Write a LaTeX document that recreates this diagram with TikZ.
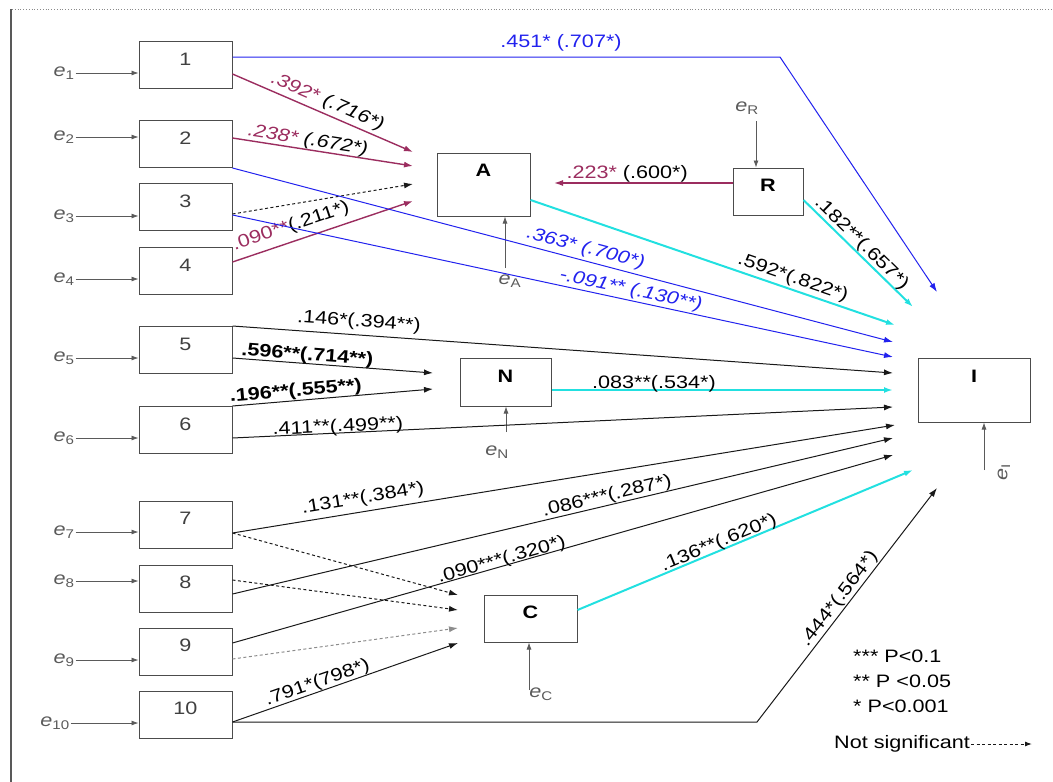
\documentclass[tikz,border=0pt]{standalone}
\usepackage{fontspec}
\setmainfont{Liberation Sans}[FakeStretch=1.2]
\usepackage{tikz}
\usetikzlibrary{arrows.meta,calc}
\definecolor{mauve}{HTML}{9B2D5F}
\definecolor{pathblue}{HTML}{2222EE}
\definecolor{pathcyan}{HTML}{22E0E0}
\definecolor{framegray}{HTML}{8A8A8A}
\definecolor{errgray}{HTML}{5A5A5A}
\newcommand{\coef}{\fontsize{18}{20}\selectfont}

\begin{document}
\begin{tikzpicture}[x=1pt, y=-1pt,
  box/.style={draw=black!70, fill=white, line width=1pt, minimum width=93pt,
              minimum height=47pt, inner sep=0pt, text height=8pt, text depth=8pt,
              font=\coef, text=black!75},
  lat/.style={box, font=\coef\bfseries, text=black},
  err/.style={font=\coef, text=errgray, inner sep=1pt},
  errarr/.style={-{Latex[length=7pt,width=5pt]}, draw=errgray, line width=0.8pt},
  arr/.style={-{Latex[length=9pt,width=6pt]}, draw=black!90, line width=1pt},
  ns/.style={arr, dash pattern=on 3pt off 2.5pt},
  mv/.style={arr, draw=mauve, line width=1.4pt},
  bl/.style={arr, draw=pathblue, line width=1pt},
  cy/.style={arr, draw=pathcyan, line width=2pt},
  coefl/.style={font=\coef, inner sep=0pt, sloped}]

\useasboundingbox (0,0) rectangle (1053,782);
\draw[framegray, dotted, line width=0.8pt] (12,9) -- (1053,9);
\draw[black!65, line width=2pt] (11,9) -- (11,782);

\node[box] (b1) at (185.5,65) {1};
\node[box] (b2) at (185.5,144) {2};
\node[box] (b3) at (185.5,207) {3};
\node[box] (b4) at (185.5,271) {4};
\node[box] (b5) at (185.5,350) {5};
\node[box] (b6) at (185.5,430) {6};
\node[box] (b7) at (185.5,524.5) {7};
\node[box] (b8) at (185.5,588.5) {8};
\node[box] (b9) at (185.5,651.5) {9};
\node[box] (b10) at (185.5,714.5) {10};

\node[lat, minimum height=63pt, text height=0pt, text depth=16pt] (A) at (483.5,184.5) {A};
\node[lat, minimum width=70pt] (R) at (768,191.5) {R};
\node[lat, minimum width=91pt, minimum height=48pt] (N) at (505.5,382) {N};
\node[lat] (C) at (530.5,618.5) {C};
\node[lat, minimum width=112pt, minimum height=64pt, text height=0pt, text depth=16pt] (I) at (974,390) {I};

\node[err] (e1) at (64,73) {\textit{e}\textsubscript{1}};
\node[err] (e2) at (64,137) {\textit{e}\textsubscript{2}};
\node[err] (e3) at (64,216) {\textit{e}\textsubscript{3}};
\node[err] (e4) at (64,279) {\textit{e}\textsubscript{4}};
\node[err] (e5) at (64,358) {\textit{e}\textsubscript{5}};
\node[err] (e6) at (64,438) {\textit{e}\textsubscript{6}};
\node[err] (e7) at (64,532) {\textit{e}\textsubscript{7}};
\node[err] (e8) at (64,581) {\textit{e}\textsubscript{8}};
\node[err] (e9) at (64,660) {\textit{e}\textsubscript{9}};
\node[err] (e10) at (55,723) {\textit{e}\textsubscript{10}};
\draw[errarr] (e1.east) -- (e1.east -| b1.west);
\draw[errarr] (e2.east) -- (e2.east -| b2.west);
\draw[errarr] (e3.east) -- (e3.east -| b3.west);
\draw[errarr] (e4.east) -- (e4.east -| b4.west);
\draw[errarr] (e5.east) -- (e5.east -| b5.west);
\draw[errarr] (e6.east) -- (e6.east -| b6.west);
\draw[errarr] (e7.east) -- (e7.east -| b7.west);
\draw[errarr] (e8.east) -- (e8.east -| b8.west);
\draw[errarr] (e9.east) -- (e9.east -| b9.west);
\draw[errarr] (e10.east) -- (e10.east -| b10.west);

\coordinate (eRf) at (756,121);
\coordinate (eAf) at (505,268);
\coordinate (eNf) at (506,432);
\coordinate (eCf) at (529,690);
\coordinate (eIf) at (984,470);
\node[err] (eR) at (747,108) {\textit{e}\textsubscript{R}};
\node[err] (eA) at (510,281) {\textit{e}\textsubscript{A}};
\node[err] (eN) at (497,452) {\textit{e}\textsubscript{N}};
\node[err] (eC) at (541,694) {\textit{e}\textsubscript{C}};
\node[err, rotate=90] (eI) at (1004,472) {\textit{e}\textsubscript{I}};
\draw[errarr] (eRf) -- (eRf |- R.north);
\draw[errarr] (eAf) -- (eAf |- A.south);
\draw[errarr] (eNf) -- (eNf |- N.south);
\draw[errarr] (eCf) -- (eCf |- C.south);
\draw[errarr] (eIf) -- (eIf |- I.south);

\coordinate (tA1) at (413,152);
\coordinate (tA2) at (413,166);
\coordinate (tA3) at (413,184);
\coordinate (tA4) at (413,201);
\coordinate (tRA) at (554,183);
\coordinate (tN1) at (433,373);
\coordinate (tN2) at (433,389);
\coordinate (tC1) at (458,595);
\coordinate (tC2) at (458,610);
\coordinate (tC3) at (458,628);
\coordinate (tC4) at (458,643);
\coordinate (tI1) at (913,307);
\coordinate (tI2) at (937,292);
\coordinate (tI3) at (895,325);
\coordinate (tI4) at (893,342);
\coordinate (tI5) at (893,357);
\coordinate (tI6) at (893,373);
\coordinate (tI7) at (893,390);
\coordinate (tI8) at (893,407);
\coordinate (tI9) at (895,425);
\coordinate (tI10) at (893,438);
\coordinate (tI11) at (893,455);
\coordinate (tI12) at (913,470);
\coordinate (tI13) at (937,488);
\coordinate (k1) at (780,57);
\coordinate (k10) at (757,722);

\draw[bl] ([yshift=8pt]b1.east) -- node[coefl, above=5pt, pos=0.6, text=pathblue]{.451* (.707*)} (k1) -- (tI2);
\draw[mv] ([yshift=-9pt]b1.east) -- node[coefl, above=3pt, pos=0.5]{\itshape\textcolor{mauve}{.392*} (.716*)} (tA1);
\draw[mv] ([yshift=6pt]b2.east) -- node[coefl, above=0pt, pos=0.41]{\itshape\textcolor{mauve}{.238*} (.672*)} (tA2);
\draw[ns] ([yshift=-7pt]b3.east) -- (tA3);
\draw[mv] ([yshift=9pt]b4.east) -- node[coefl, above=6pt, pos=0.35]{\textcolor{mauve}{.090**}(.211*)} (tA4);
\draw[bl] (b2.south east) -- node[coefl, above=3pt, pos=0.53, text=pathblue]{\itshape .363* (.700*)} (tI4);
\draw[bl] ([yshift=-8pt]b3.east) -- node[coefl, above=1pt, pos=0.6, text=pathblue]{\itshape -.091** (.130**)} (tI5);
\draw[mv] ([yshift=8.5pt]R.west) -- node[font=\coef, inner sep=0pt, above=0pt, pos=0.59]{\textcolor{mauve}{.223*} (.600*)} (tRA);
\draw[cy] ([yshift=-15.5pt]A.east) -- node[coefl, above=2pt, pos=0.71]{.592*(.822*)} (tI3);
\draw[cy] ([yshift=-8.5pt]R.east) -- node[coefl, above=0pt, pos=0.47]{.182**(.657*)} (tI1);

\draw[arr] (b5.north east) -- node[coefl, above=4pt, pos=0.19]{.146*(.394**)} (tI6);
\draw[arr] ([yshift=-8pt]b5.east) -- node[coefl, above=-1pt, pos=0.37]{\bfseries .596**(.714**)} (tN1);
\draw[arr] (b6.north east) -- node[coefl, above=0pt, pos=0.32]{\bfseries .196**(.555**)} (tN2);
\draw[arr] ([yshift=-8pt]b6.east) -- node[coefl, above=-3pt, pos=0.16]{.411**(.499**)} (tI8);
\draw[cy] ([yshift=-8pt]N.east) -- node[coefl, above=-3pt, pos=0.3]{.083**(.534*)} (tI7);

\draw[arr] ([yshift=-8.5pt]b7.east) -- node[coefl, above=4pt, pos=0.2]{.131**(.384*)} (tI9);
\draw[arr] ([yshift=-5.5pt]b8.east) -- node[coefl, above=0pt, pos=0.57]{.086***(.287*)} (tI10);
\draw[arr] ([yshift=8.5pt]b9.east) -- node[coefl, above=-3pt, pos=0.41]{.090***(.320*)} (tI11);
\draw[cy] ([yshift=8.5pt]C.east) -- node[coefl, above=-2pt, pos=0.43]{.136**(.620*)} (tI12);
\draw[arr] ([yshift=-7.5pt]b10.east) -- (k10) -- node[coefl, above=1pt, pos=0.5]{.444*(.564*)} (tI13);
\draw[arr] ([yshift=-7.5pt]b10.east) -- node[coefl, above=0pt, pos=0.39]{.791*(798*)} (tC4);

\draw[ns] ([yshift=-8.5pt]b7.east) -- (tC1);
\draw[ns] ([yshift=8.5pt]b8.east) -- (tC2);
\draw[ns, draw=black!45] ([yshift=-7.5pt]b9.east) -- (tC3);

\node[font=\fontsize{18}{25}\selectfont, anchor=west, align=left, inner sep=0pt] (sig) at (853,681)
  {*** P<0.1\\** P <0.05\\* P<0.001};
\node[font=\coef, anchor=west, inner sep=1pt] (nsig) at (833,744) {Not significant};
\coordinate (nsend) at (1032,744);
\draw[ns, -{Latex[length=7pt,width=5pt]}] (nsig.east) -- (nsend);
\end{tikzpicture}
\end{document}
